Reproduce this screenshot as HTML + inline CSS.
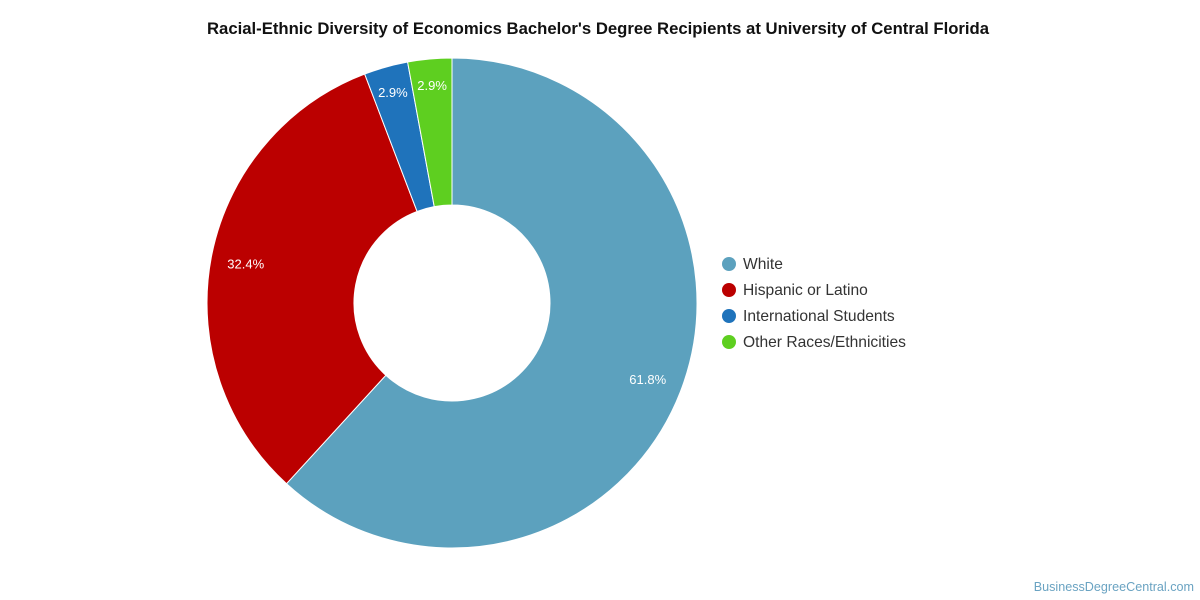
<!DOCTYPE html>
<html><head><meta charset="utf-8"><style>
body{margin:0;background:#fff;}
svg{display:block;font-family:"Liberation Sans",sans-serif;}
</style></head><body>
<svg id="c" width="1200" height="600">
<text x="598" y="34" text-anchor="middle" font-size="16.7" font-weight="bold" fill="#111">Racial-Ethnic Diversity of Economics Bachelor's Degree Recipients at University of Central Florida</text>
<g id="slices"></g>
<g id="legend"></g>
<text x="1194" y="591" text-anchor="end" font-size="12.6" fill="#6aa3c2">BusinessDegreeCentral.com</text>
</svg>
<script>
const categories=["White","Hispanic or Latino","International Students","Other Races/Ethnicities"];
const values=[61.8,32.4,2.9,2.9];
const colors=["#5ca1be","#bb0000","#1f73bb","#5ecf20"];
const ns="http://www.w3.org/2000/svg";
const cx=452,cy=303,R=245,r=98;
const g=document.getElementById('slices'),lg=document.getElementById('legend');
const total=values.reduce((a,b)=>a+b,0);
let a0=0;
function pt(rad,a){return [cx+rad*Math.sin(a),cy-rad*Math.cos(a)];}
values.forEach((v,i)=>{
  const a1=a0+v/total*2*Math.PI;
  const large=(a1-a0)>Math.PI?1:0;
  const [x0,y0]=pt(R,a0),[x1,y1]=pt(R,a1),[x2,y2]=pt(r,a1),[x3,y3]=pt(r,a0);
  const p=document.createElementNS(ns,'path');
  p.setAttribute('d',`M${x0},${y0}A${R},${R} 0 ${large} 1 ${x1},${y1}L${x2},${y2}A${r},${r} 0 ${large} 0 ${x3},${y3}Z`);
  p.setAttribute('fill',colors[i]);p.setAttribute('stroke','#fff');p.setAttribute('stroke-width','1');
  
  
  g.appendChild(p);
  const am=(a0+a1)/2;
  const LR=(a1-a0)<0.3?219:210;
  const [lx,ly]=pt(LR,am);
  const t=document.createElementNS(ns,'text');
  t.setAttribute('x',lx);t.setAttribute('y',ly+5);t.setAttribute('text-anchor','middle');
  t.setAttribute('font-size','13');t.setAttribute('fill','#fff');
  t.textContent=v.toFixed(1)+'%';
  
  
  g.appendChild(t);
  a0=a1;
  const y=264+i*26;
  const c=document.createElementNS(ns,'circle');
  c.setAttribute('cx',729);c.setAttribute('cy',y);c.setAttribute('r',7);c.setAttribute('fill',colors[i]);
  
  
  lg.appendChild(c);
  const lt=document.createElementNS(ns,'text');
  lt.setAttribute('x',743);lt.setAttribute('y',y+5);lt.setAttribute('font-size','15.6');lt.setAttribute('fill','#333');
  lt.textContent=categories[i];
  
  
  lg.appendChild(lt);
});
</script>
</body></html>
